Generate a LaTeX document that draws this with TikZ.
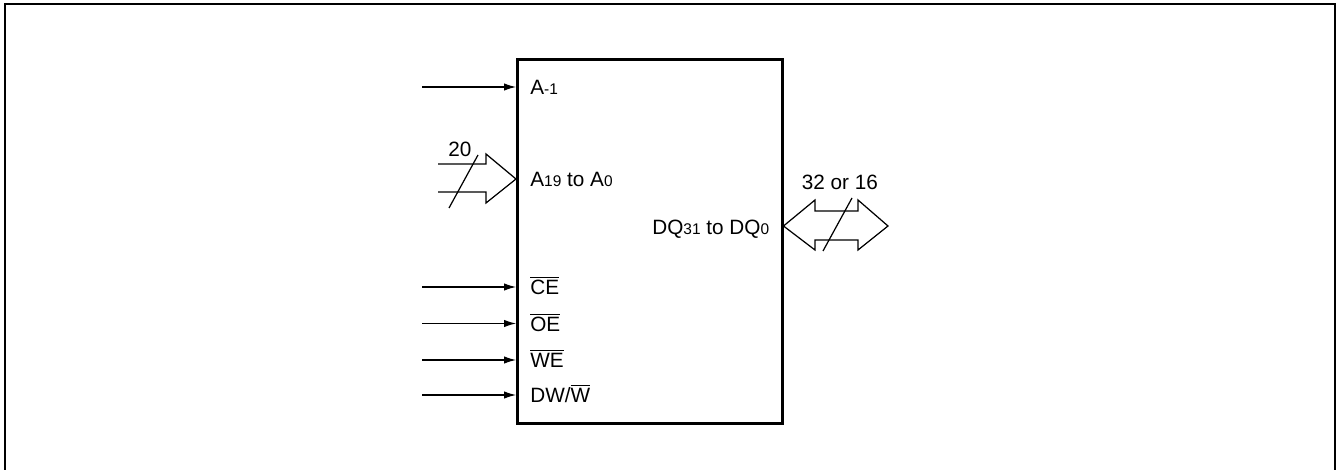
\documentclass[tikz,border=0pt]{standalone}
\usepackage{fontspec}
\setmainfont{Liberation Sans}
\usetikzlibrary{arrows.meta}
\newcommand{\lbl}[1]{{\fontsize{8.8}{10}\selectfont #1}}
\tikzset{
	pin/.style={line width=0.7pt, -{Latex[length=2.4mm,width=1.5mm]}},
	sig/.style={anchor=base west, inner sep=0pt, font=\fontsize{11.8}{14}\selectfont},
	wide/.style={line width=0.7pt, line join=miter}
}
\begin{document}
\begin{tikzpicture}[x=0.02cm, y=-0.02cm]
\useasboundingbox (0,0) rectangle (1339,470);
%frame
	\coordinate (f1) at (5,470);
	\coordinate (f2) at (5,4);
	\coordinate (f3) at (1335,4);
	\coordinate (f4) at (1335,470);
	\draw[line width=1.1pt] (f1) -- (f2) -- (f3) -- (f4);

%chip
	\node[draw, line width=1.7pt, minimum width=5.32cm, minimum height=7.30cm, inner sep=0pt] (chip) at (650,241.5) {};

%inputs
	\foreach \y/ \name/ \txt in {87/am/{A\lbl{-1}},287/ce/{$\overline{\mbox{CE}}$},323.5/oe/{$\overline{\mbox{OE}}$},360/we/{$\overline{\mbox{WE}}$},395/dw/{DW/$\overline{\mbox{W}}$}} {
		\coordinate (from\name) at (422,\y);
		\coordinate (to\name) at (516,\y);
		\draw[pin] (from\name) -- (to\name);
		\node[sig] (sig\name) at (530,\y+7.5) {\txt};
	}

%address bus
	\coordinate (a1) at (438,164);
	\coordinate (a2) at (486,164);
	\coordinate (a3) at (486,154);
	\coordinate (a4) at (516,179);
	\coordinate (a5) at (486,203);
	\coordinate (a6) at (486,192);
	\coordinate (a7) at (438,192);
	\draw[wide] (a1) -- (a2) -- (a3) -- (a4) -- (a5) -- (a6) -- (a7);
	\coordinate (s1) at (478,155);
	\coordinate (s2) at (449,208);
	\draw[wide] (s1) -- (s2);
	\node[sig] (busa) at (448,156) {20};
	\node[sig] (siga) at (530,186.5) {A\lbl{19} to A\lbl{0}};

%data bus
	\coordinate (d1) at (783.5,226);
	\coordinate (d2) at (815,200);
	\coordinate (d3) at (815,211);
	\coordinate (d4) at (858,211);
	\coordinate (d5) at (858,200);
	\coordinate (d6) at (888,226);
	\coordinate (d7) at (858,250);
	\coordinate (d8) at (858,240);
	\coordinate (d9) at (815,240);
	\coordinate (d10) at (815,250);
	\draw[wide] (d1) -- (d2) -- (d3) -- (d4) -- (d5) -- (d6) -- (d7) -- (d8) -- (d9) -- (d10) -- cycle;
	\coordinate (s3) at (852,198);
	\coordinate (s4) at (823,251);
	\draw[wide] (s3) -- (s4);
	\node[sig] (busd) at (801.5,189) {32 or 16};
	\node[sig] (sigd) at (652,234) {DQ\lbl{31} to DQ\lbl{0}};
\end{tikzpicture}
\end{document}
